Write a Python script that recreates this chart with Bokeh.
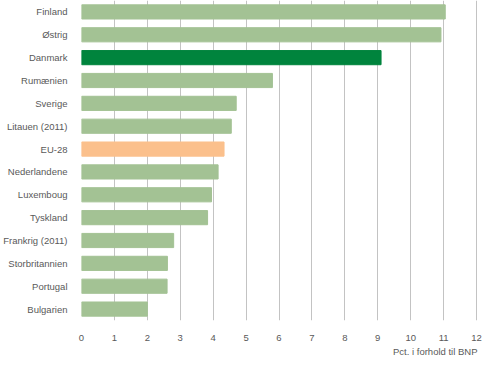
from bokeh.plotting import figure
from bokeh.models import FactorRange, Range1d, FixedTicker, ColumnDataSource, Title
from bokeh.embed import file_html
from bokeh.resources import INLINE

countries = ["Finland", "Østrig", "Danmark", "Rumænien", "Sverige", "Litauen (2011)",
             "EU-28", "Nederlandene", "Luxemboug", "Tyskland", "Frankrig (2011)",
             "Storbritannien", "Portugal", "Bulgarien"]
values = [11.05, 10.92, 9.1, 5.8, 4.7, 4.55, 4.33, 4.15, 3.95, 3.83, 2.8, 2.61, 2.6, 2.0]
highlight = {"Danmark": "#00843d", "EU-28": "#fbc08c"}
base_color = "#a3c294"
colors = [highlight.get(c, base_color) for c in countries]
x_ticks = list(range(0, 13))
x_label = "Pct. i forhold til BNP"

FONT = "Liberation Sans"
TXT = "#595959"

src = ColumnDataSource(dict(country=countries, val=values, color=colors))

p = figure(width=482, height=356, output_backend="svg", toolbar_location=None,
           y_range=FactorRange(factors=countries[::-1], range_padding=0),
           x_range=Range1d(0, 12.03))
p.min_border_left = 74
p.min_border_right = 5
p.min_border_top = 0
p.min_border_bottom = 0
p.outline_line_color = None
p.background_fill_color = "white"
p.border_fill_color = "white"

p.hbar(y="country", right="val", left=0, height=0.62, color="color", source=src)

p.ygrid.grid_line_color = None
p.xgrid.grid_line_color = "#c3c3c3"
p.xgrid.grid_line_width = 1
p.xaxis.ticker = FixedTicker(ticks=x_ticks)

for ax in (p.xaxis[0], p.yaxis[0]):
    ax.axis_line_color = None
    ax.major_tick_line_color = None
    ax.minor_tick_line_color = None
    ax.major_label_text_font = FONT
    ax.major_label_text_font_size = "9.5px"
    ax.major_label_text_color = TXT
p.yaxis.major_label_standoff = 8
p.xaxis.major_label_standoff = 8

t = Title(text=x_label, align="right", text_font=FONT, text_font_size="9.5px",
          text_font_style="normal", text_color=TXT, standoff=0, offset=0)
p.add_layout(t, "below")

open("out.html", "w").write(file_html(p, INLINE))
